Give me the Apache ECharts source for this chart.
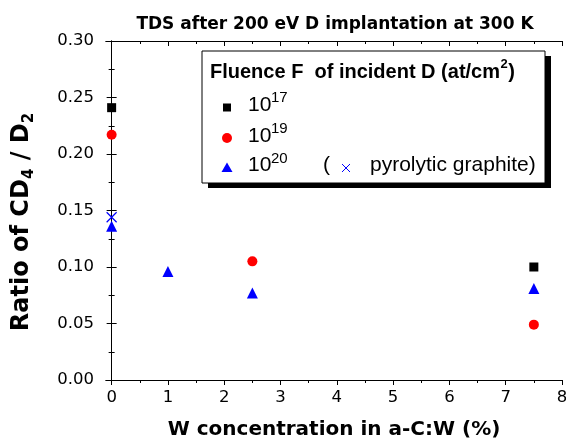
<!DOCTYPE html>
<html><head><meta charset="utf-8">
<script src="https://cdn.jsdelivr.net/npm/echarts@6/dist/echarts.min.js"></script>
<style>html,body{margin:0;padding:0;background:#fff}#c{width:566px;height:443px}</style>
</head><body><div id="c"></div>
<script>
// Data (W concentration %, ratio CD4/D2)
const fluence17 = [[0, 0.241], [7.5, 0.100]];
const fluence19 = [[0, 0.217], [2.5, 0.105], [7.5, 0.049]];
const fluence20 = [[0, 0.136], [1, 0.096], [2.5, 0.077], [7.5, 0.081]];
const pyrolytic = [[0, 0.144]];
const xMajorTicks = [0, 1, 2, 3, 4, 5, 6, 7, 8];
const xMinorTicks = [0.5, 1.5, 2.5, 3.5, 4.5, 5.5, 6.5, 7.5];
const legendExponents = ['17', '19', '20'];

const FA = '"DejaVu Sans", sans-serif';
const FL = '"Liberation Sans", Arial, sans-serif';
const chart = echarts.init(document.getElementById('c'), null, {renderer: 'canvas'});
const lineStyle = {color: '#000', width: 1};
function xAx(pos, ticks, len, inside, labels) {
  return {
    type: 'value', position: pos, min: -0.1, max: 8,
    axisLine: {show: true, onZero: false, lineStyle},
    axisTick: {show: true, inside, length: len, customValues: ticks, lineStyle},
    axisLabel: labels ? {show: true, customValues: ticks, fontFamily: FA, fontSize: 16.5, color: '#000', margin: 9} : {show: false},
    splitLine: {show: false}
  };
}
function yAx(pos, labels) {
  return {
    type: 'value', position: pos, min: 0, max: 0.3, interval: 0.05,
    axisLine: {show: true, lineStyle},
    axisTick: {show: true, inside: true, length: 5, lineStyle},
    minorTick: {show: true, splitNumber: 2, length: 3, lineStyle},
    axisLabel: labels ? {show: true, fontFamily: FA, fontSize: 16.5, color: '#000', margin: 12, formatter: v => v.toFixed(2)} : {show: false},
    splitLine: {show: false}
  };
}
const xAxes = [
  Object.assign(xAx('bottom', xMajorTicks, 5, false, true), {
    name: 'W concentration in a-C:W (%)', nameLocation: 'middle', nameGap: 40,
    nameTextStyle: {fontFamily: FA, fontSize: 20, fontWeight: 'bold', color: '#000'}
  }),
  xAx('bottom', xMinorTicks, 3, false, false),
  xAx('top', xMajorTicks, 5, true, false),
  xAx('top', xMinorTicks, 3, true, false)
];
const yAxes = [yAx('left', true), yAx('right', false)];
function sc(name, data, symbol, size, color) {
  return {name, type: 'scatter', data, symbol, symbolSize: size, itemStyle: {color, opacity: 1},
    xAxisIndex: 0, yAxisIndex: 0, silent: true, z: 5};
}
const crossPath = 'path://M0,0L10,10M10,0L0,10';

// measure legend title for superscript placement
const ctx = document.createElement('canvas').getContext('2d');
ctx.font = 'bold 20px ' + FL;
const wT = ctx.measureText('Fluence F  of incident D (at/cm').width;
ctx.font = 'bold 13px ' + FL;
const wS = ctx.measureText('2').width;

const LX = 202, LY = 51, LW = 343, LH = 132;
const rowY = [105, 136, 165.5];
const graphics = [
  {type: 'text', x: 22, y: 222, rotation: Math.PI / 2, z: 12,
    style: {text: '{m|Ratio of CD}{s|4}{m| / D}{s|2}', align: 'center', verticalAlign: 'middle',
      rich: {
        m: {fontFamily: FA, fontSize: 24, fontWeight: 'bold', fill: '#000', lineHeight: 30, verticalAlign: 'middle'},
        s: {fontFamily: FA, fontSize: 15, fontWeight: 'bold', fill: '#000', lineHeight: 16, verticalAlign: 'bottom'}
      }}},
  {type: 'rect', shape: {x: LX + 6, y: LY + 5, width: LW, height: LH}, style: {fill: '#000'}, z: 10},
  {type: 'rect', shape: {x: LX, y: LY, width: LW, height: LH}, style: {fill: '#fff', stroke: '#000', lineWidth: 1}, z: 11},
  {type: 'text', x: 210, y: 72, style: {text: 'Fluence F  of incident D (at/cm', font: 'bold 20px ' + FL, fill: '#000', verticalAlign: 'middle'}, z: 12},
  {type: 'text', x: 210 + wT + 0.5, y: 64, style: {text: '2', font: 'bold 13px ' + FL, fill: '#000', verticalAlign: 'middle'}, z: 12},
  {type: 'text', x: 210 + wT + wS + 1, y: 72, style: {text: ')', font: 'bold 20px ' + FL, fill: '#000', verticalAlign: 'middle'}, z: 12},
  {type: 'rect', shape: {x: 223, y: 103.5, width: 8, height: 8}, style: {fill: '#000'}, z: 12},
  {type: 'circle', shape: {cx: 227, cy: 138, r: 5}, style: {fill: '#ff0000'}, z: 12},
  {type: 'polygon', shape: {points: [[227, 162.5], [232.5, 172], [221.5, 172]]}, style: {fill: '#0000ff'}, z: 12},
  {type: 'text', x: 323, y: rowY[2], style: {text: '(', font: '21px ' + FL, fill: '#000', verticalAlign: 'middle'}, z: 12},
  {type: 'polyline', shape: {points: [[342, 164], [350, 172]]}, style: {stroke: '#0000ff', lineWidth: 1, fill: null}, z: 12},
  {type: 'polyline', shape: {points: [[350, 164], [342, 172]]}, style: {stroke: '#0000ff', lineWidth: 1, fill: null}, z: 12},
  {type: 'text', x: 370, y: rowY[2], style: {text: 'pyrolytic graphite)', font: '21px ' + FL, fill: '#000', verticalAlign: 'middle'}, z: 12}
];
legendExponents.forEach((e, i) => {
  graphics.push({type: 'text', x: 248, y: rowY[i], style: {text: '10', font: '21px ' + FL, fill: '#000', verticalAlign: 'middle'}, z: 12});
  graphics.push({type: 'text', x: 271, y: rowY[i] - 7, style: {text: e, font: '15px ' + FL, fill: '#000', verticalAlign: 'middle'}, z: 12});
});

chart.setOption({
  animation: false,
  title: {text: 'TDS after 200 eV D implantation at 300 K', left: 330, top: 11, textAlign: 'center',
    textStyle: {fontFamily: FA, fontSize: 17, fontWeight: 'bold', color: '#000'}},
  grid: {left: 106, right: 4, top: 41, bottom: 63, containLabel: false, outerBoundsMode: 'none'},
  xAxis: xAxes,
  yAxis: yAxes,
  series: [
    sc('1e17', fluence17, 'rect', 9, '#000'),
    sc('1e19', fluence19, 'circle', 10, '#ff0000'),
    sc('1e20', fluence20, 'triangle', 11, '#0000ff'),
    {name: 'pyro', type: 'scatter', data: pyrolytic, symbol: crossPath, symbolSize: 10,
      itemStyle: {color: 'none', borderColor: '#0000ff', borderWidth: 1.2, opacity: 1}, xAxisIndex: 0, yAxisIndex: 0, z: 5}
  ],
  graphic: graphics
});
</script>
</body></html>
